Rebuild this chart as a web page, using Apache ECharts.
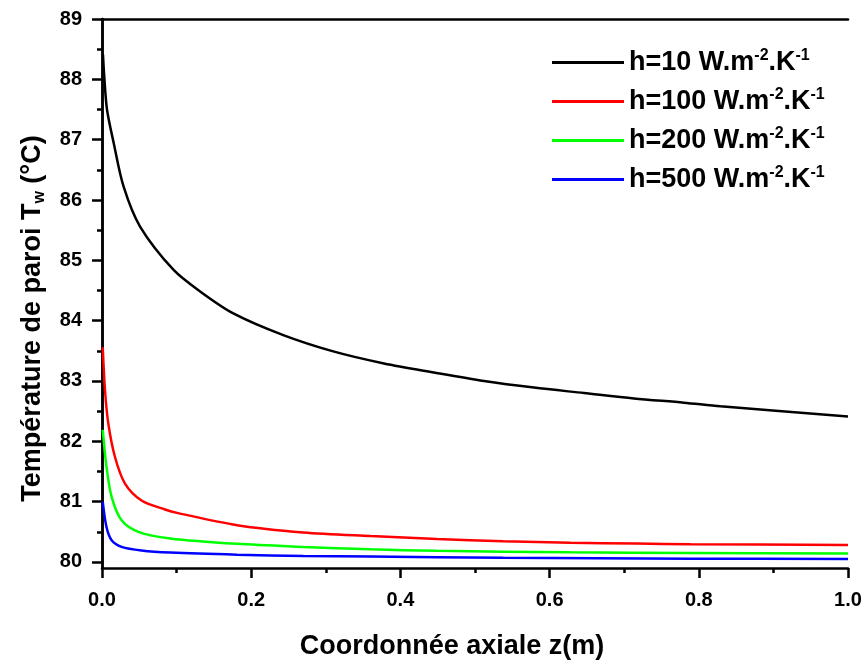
<!DOCTYPE html>
<html>
<head>
<meta charset="utf-8">
<script src="https://cdn.jsdelivr.net/npm/echarts@6/dist/echarts.min.js"></script>
<style>
  html, body { margin: 0; padding: 0; background: #fff; }
  #chart { width: 866px; height: 661px; }
</style>
</head>
<body>
<div id="chart"></div>
<script>
// Wall temperature along the tube axis for four heat-transfer coefficients
const hValues = [10, 100, 200, 500];
const seriesColors = ['#000000', '#ff0000', '#00ff00', '#0000ff'];

const zH10 = [0.0013, 0.003, 0.0067, 0.0156, 0.029, 0.051, 0.096, 0.132, 0.176, 0.243, 0.31, 0.378, 0.445, 0.512, 0.579, 0.646, 0.713, 0.78, 0.829, 1.0];
const tH10 = [88.41, 88.05, 87.50, 86.95, 86.22, 85.56, 84.84, 84.48, 84.12, 83.76, 83.49, 83.29, 83.14, 83.00, 82.89, 82.80, 82.71, 82.64, 82.58, 82.41];

const zH100 = [0.001, 0.004, 0.0084, 0.0174, 0.0308, 0.053, 0.0845, 0.102, 0.181, 0.27, 0.36, 0.449, 0.538, 0.628, 0.717, 0.789, 1.0];
const tH100 = [83.56, 82.85, 82.30, 81.74, 81.30, 81.02, 80.87, 80.81, 80.61, 80.49, 80.43, 80.38, 80.345, 80.32, 80.305, 80.295, 80.28];

const zH200 = [0.001, 0.006, 0.0129, 0.0263, 0.0487, 0.0916, 0.181, 0.27, 0.36, 0.449, 0.538, 0.628, 0.789, 1.0];
const tH200 = [82.19, 81.58, 81.08, 80.69, 80.50, 80.39, 80.30, 80.25, 80.21, 80.185, 80.17, 80.16, 80.15, 80.14];

const zH500 = [0.001, 0.006, 0.0129, 0.0263, 0.053, 0.0916, 0.181, 0.27, 0.36, 0.538, 0.789, 1.0];
const tH500 = [81.00, 80.58, 80.36, 80.25, 80.19, 80.155, 80.12, 80.10, 80.09, 80.07, 80.055, 80.05];

const zSets = [zH10, zH100, zH200, zH500];
const tSets = [tH10, tH100, tH200, tH500];

const xMajorTicks = [0, 0.2, 0.4, 0.6, 0.8, 1.0];
const xMinorTicks = [0.1, 0.3, 0.5, 0.7, 0.9];
const yMajorTicks = [80, 81, 82, 83, 84, 85, 86, 87, 88, 89];
const yMinorTicks = [80.5, 81.5, 82.5, 83.5, 84.5, 85.5, 86.5, 87.5, 88.5];

const FONT = "'Liberation Sans', Arial, Helvetica, sans-serif";
const AXIS_W = 2.5;
const axisLine = { show: true, lineStyle: { color: '#000', width: AXIS_W } };
const tickLabelStyle = { color: '#000', fontSize: 20, fontWeight: 'bold', fontFamily: FONT };

const X_MIN = 0, X_MAX = 1;
const Y_MIN = 79.9, Y_MAX = 89;

const chart = echarts.init(document.getElementById('chart'), null, { renderer: 'canvas' });

const series = hValues.map((h, i) => ({
  name: 'h=' + h,
  type: 'line',
  xAxisIndex: 0,
  yAxisIndex: 0,
  data: zSets[i].map((z, k) => [z, tSets[i][k]]),
  showSymbol: false,
  symbol: 'none',
  smooth: 0.3,
  lineStyle: { color: seriesColors[i], width: 2.5 },
  itemStyle: { color: seriesColors[i] },
  emphasis: { disabled: true },
  silent: true,
  z: 10 - i
}));

chart.setOption({
  animation: false,
  backgroundColor: '#fff',
  grid: { left: 102, right: 18, top: 19, bottom: 93, containLabel: false, outerBoundsMode: 'none' },
  legend: {
    orient: 'vertical',
    left: 552,
    top: 48,
    padding: 0,
    icon: 'rect',
    itemWidth: 72,
    itemHeight: 3,
    itemGap: 11,
    data: hValues.map(h => 'h=' + h),
    formatter: name => '{t|' + name + ' W.m}{s|-2}{t|.K}{s|-1}',
    textStyle: {
      color: '#000',
      rich: {
        t: { fontSize: 27, fontWeight: 'bold', fontFamily: FONT, color: '#000', lineHeight: 29 },
        s: { fontSize: 16, fontWeight: 'bold', fontFamily: FONT, color: '#000', verticalAlign: 'top', lineHeight: 16 }
      }
    }
  },
  xAxis: [
    {
      type: 'value', position: 'bottom', min: X_MIN, max: X_MAX, interval: 0.2,
      axisLine: axisLine,
      axisTick: { show: true, inside: false, length: 10, customValues: xMajorTicks, lineStyle: { color: '#000', width: AXIS_W } },
      axisLabel: Object.assign({ margin: 22, customValues: xMajorTicks, formatter: v => v.toFixed(1) }, tickLabelStyle),
      splitLine: { show: false },
      name: 'Coordonnée axiale z(m)',
      nameLocation: 'middle',
      nameGap: 65,
      nameTextStyle: { color: '#000', fontSize: 27, fontWeight: 'bold', fontFamily: FONT, padding: [0, 46, 0, 0] }
    },
    {
      type: 'value', position: 'bottom', min: X_MIN, max: X_MAX,
      axisLine: { show: false },
      axisTick: { show: true, inside: false, length: 5, customValues: xMinorTicks, lineStyle: { color: '#000', width: AXIS_W } },
      axisLabel: { show: false },
      splitLine: { show: false }
    },
    {
      type: 'value', position: 'top', min: X_MIN, max: X_MAX,
      axisLine: axisLine,
      axisTick: { show: false },
      axisLabel: { show: false },
      splitLine: { show: false }
    }
  ],
  yAxis: [
    {
      type: 'value', position: 'left', min: Y_MIN, max: Y_MAX,
      axisLine: axisLine,
      axisTick: { show: true, inside: false, length: 10, customValues: yMajorTicks, lineStyle: { color: '#000', width: AXIS_W } },
      axisLabel: Object.assign({ margin: 20, customValues: yMajorTicks, formatter: v => String(Math.round(v)) }, tickLabelStyle),
      splitLine: { show: false },
      name: '{a|Température de paroi T}{w|w}{a| (°C)}',
      nameLocation: 'middle',
      nameGap: 54,
      nameTextStyle: {
        color: '#000',
        padding: [0, 50, 0, 0],
        rich: {
          a: { fontSize: 27, fontWeight: 'bold', fontFamily: FONT, color: '#000', lineHeight: 31 },
          w: { fontSize: 16, fontWeight: 'bold', fontFamily: FONT, color: '#000', verticalAlign: 'bottom', lineHeight: 16 }
        }
      }
    },
    {
      type: 'value', position: 'left', min: Y_MIN, max: Y_MAX,
      axisLine: { show: false },
      axisTick: { show: true, inside: false, length: 5, customValues: yMinorTicks, lineStyle: { color: '#000', width: AXIS_W } },
      axisLabel: { show: false },
      splitLine: { show: false }
    },
    {
      type: 'value', position: 'right', min: Y_MIN, max: Y_MAX,
      axisLine: axisLine,
      axisTick: { show: false },
      axisLabel: { show: false },
      splitLine: { show: false }
    }
  ],
  series: series
});
</script>
</body>
</html>
